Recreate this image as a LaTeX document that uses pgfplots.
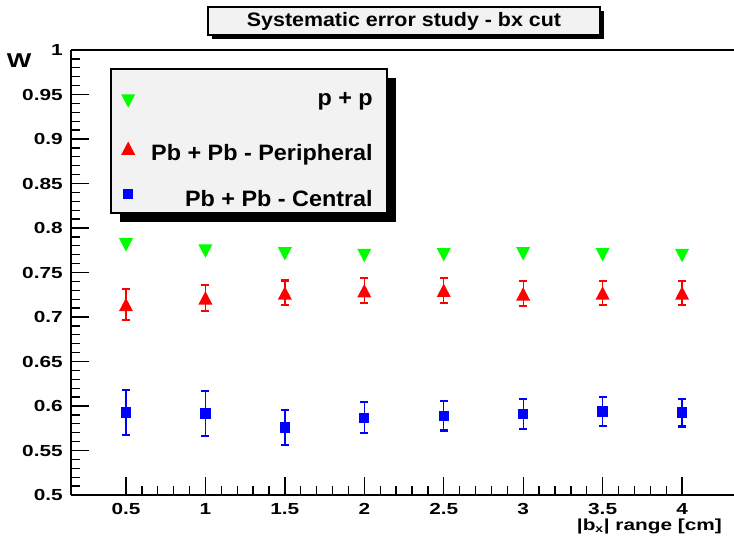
\documentclass[border=0pt]{standalone}
\usepackage{fontspec}
\setmainfont{Liberation Sans}
\newfontfamily\axfont[FakeStretch=1.3]{Liberation Sans}
\newfontfamily\legfont[FakeStretch=1.05]{Liberation Sans}
\newfontfamily\titfont[FakeStretch=1.1]{Liberation Sans}
\usepackage{pgfplots}
\pgfplotsset{compat=1.18}
\usepackage{pgfplotstable}

\definecolor{rootgreen}{RGB}{0,255,0}
\definecolor{rootred}{RGB}{255,0,0}
\definecolor{rootblue}{RGB}{0,0,255}
\definecolor{panelgray}{RGB}{242,242,242}

% ROOT-style filled triangles, centred on their bounding box
\pgfdeclareplotmark{tridown}{%
  \pgfpathmoveto{\pgfpoint{-5.25pt}{5pt}}%
  \pgfpathlineto{\pgfpoint{5.25pt}{5pt}}%
  \pgfpathlineto{\pgfpoint{0pt}{-5pt}}%
  \pgfpathclose\pgfusepathqfill}
\pgfdeclareplotmark{triup}{%
  \pgfpathmoveto{\pgfpoint{-5.25pt}{-5pt}}%
  \pgfpathlineto{\pgfpoint{5.25pt}{-5pt}}%
  \pgfpathlineto{\pgfpoint{0pt}{5pt}}%
  \pgfpathclose\pgfusepathqfill}
\pgfdeclareplotmark{sq}{%
  \pgfpathrectangle{\pgfpoint{-3.9pt}{-3.9pt}}{\pgfpoint{7.8pt}{7.8pt}}%
  \pgfusepathqfill}
% horizontal cap for the vertical error bars
\pgfdeclareplotmark{cap}{%
  \pgfpathmoveto{\pgfpoint{-3pt}{0pt}}%
  \pgfpathlineto{\pgfpoint{3pt}{0pt}}%
  \pgfusepathqstroke}

% W versus |bx| range
\pgfplotstableread{
x    y
0.5  0.781
1.0  0.774
1.5  0.771
2.0  0.769
2.5  0.770
3.0  0.771
3.5  0.770
4.0  0.769
}\pptable

\pgfplotstableread{
x    y       ey
0.5  0.714   0.0170
1.0  0.7215  0.0145
1.5  0.727   0.0140
2.0  0.7296  0.0140
2.5  0.730   0.0140
3.0  0.726   0.0140
3.5  0.727   0.0137
4.0  0.727   0.0137
}\periphtable

\pgfplotstableread{
x    y       ey
0.5  0.5925  0.0253
1.0  0.5916  0.0253
1.5  0.5757  0.0200
2.0  0.5867  0.0174
2.5  0.589   0.0165
3.0  0.591   0.0165
3.5  0.594   0.0160
4.0  0.5925  0.0155
}\centraltable

\begin{document}
\begin{tikzpicture}
\useasboundingbox (0,0) rectangle (550.5pt,409.5pt);
% title panel with shadow
\fill[black] (159pt,380.25pt) rectangle (453pt,401.25pt);
\draw[line width=0.9pt, fill=panelgray] (156pt,383.25pt) rectangle (450pt,404.25pt);
\node[anchor=base, inner sep=0pt, font=\titfont\bfseries\fontsize{14.6}{17}\selectfont]
  at (303pt,389.5pt) {Systematic error study - bx cut};
% legend panel with shadow
\fill[black] (90pt,243pt) rectangle (297pt,351pt);
\draw[line width=0.9pt, fill=panelgray] (83.25pt,249.75pt) rectangle (290.25pt,357.75pt);

\begin{axis}[
  at={(53.25pt,38.25pt)}, anchor=south west,
  scale only axis, width=497.25pt, height=333.75pt,
  xmin=0.154, xmax=4.327, ymin=0.5, ymax=1,
  enlargelimits=false,
  separate axis lines,
  axis x line*=box, axis y line*=left,
  axis line style={-, line width=1pt},
  xtick pos=left, ytick pos=left,
  tick align=inside,
  tick style={black, line width=1pt},
  xtick={0.5,1,1.5,2,2.5,3,3.5,4},
  xticklabels={0.5,1,1.5,2,2.5,3,3.5,4},
  ytick={0.5,0.55,0.6,0.65,0.7,0.75,0.8,0.85,0.9,0.95,1},
  yticklabels={0.5,0.55,0.6,0.65,0.7,0.75,0.8,0.85,0.9,0.95,1},
  minor x tick num=4, minor y tick num=4,
  major tick length=13.5pt, minor tick length=6.75pt,
  /pgf/number format/assume math mode=true,
  ticklabel style={font=\axfont\bfseries\fontsize{12}{14}\selectfont},
  xticklabel style={inner sep=0pt, yshift=-5.8pt},
  yticklabel style={inner sep=0pt, xshift=-6pt},
  xlabel={|b\textsubscript{x}| range [cm]},
  xlabel style={at={(rel axis cs:0.982,0)}, anchor=base east, yshift=-26.25pt,
    inner sep=0pt, font=\axfont\bfseries\fontsize{12}{14}\selectfont},
  clip=false,
  legend cell align=right,
  legend style={at={(rel axis cs:0.4555,0.9011)}, anchor=north east,
    draw=none, fill=none, inner sep=0pt,
    row sep=17.15pt, column sep=12pt,
    nodes={inner sep=0pt, text height=12pt, text depth=4pt},
    font=\legfont\bfseries\fontsize{16.7}{19}\selectfont},
  legend image code/.code={\draw[#1] plot coordinates {(0pt,5.25pt)};},
  error bars/y dir=both, error bars/y explicit,
  error bars/error bar style={line width=1pt},
  error bars/error mark=cap,
  error bars/error mark options={line width=1.6pt, rotate=90},
]
\addplot[only marks, mark=tridown, color=rootgreen, mark options={fill=rootgreen},
  error bars/y dir=none]
  table[x=x, y=y] {\pptable};
\addlegendentry{\raisebox{6pt}{p + p}}
\addplot[only marks, mark=triup, color=rootred, mark options={fill=rootred}]
  table[x=x, y=y, y error=ey] {\periphtable};
\addlegendentry{Pb + Pb - Peripheral}
\addplot[only marks, mark=sq, color=rootblue, mark options={fill=rootblue}]
  table[x=x, y=y, y error=ey] {\centraltable};
\addlegendentry{Pb + Pb - Central}
\node[font=\axfont\bfseries\fontsize{15}{17}\selectfont, inner sep=0pt]
  at (rel axis cs:-0.0784,0.975) {W};
\end{axis}
\end{tikzpicture}
\end{document}
